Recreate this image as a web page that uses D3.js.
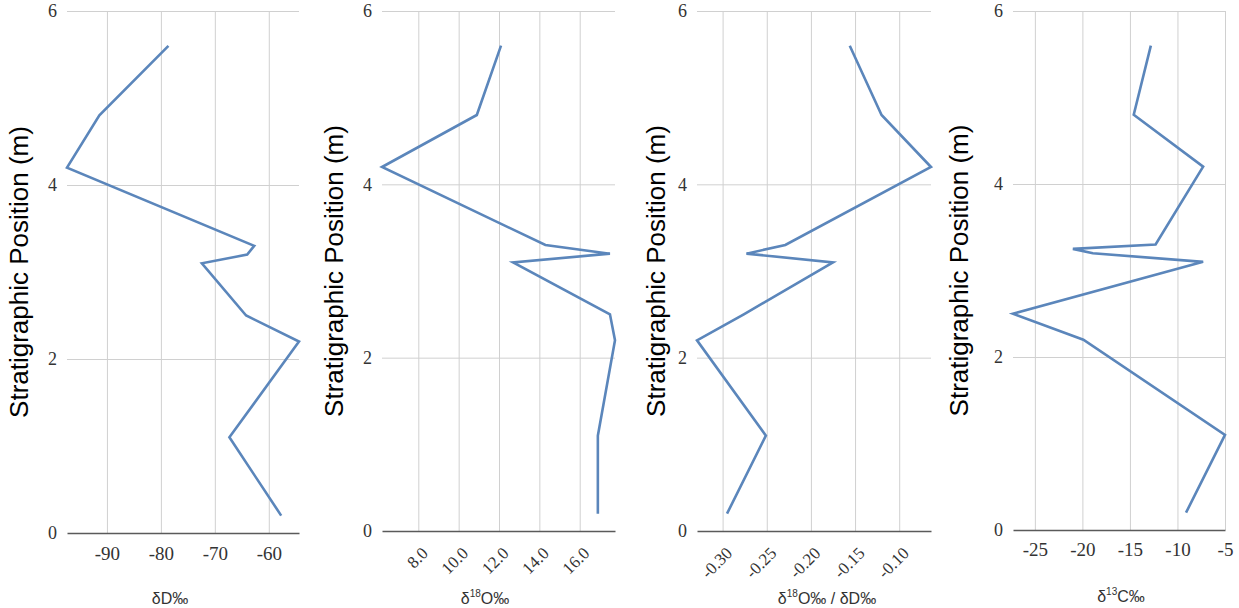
<!DOCTYPE html>
<html>
<head>
<meta charset="utf-8">
<script src="https://cdn.jsdelivr.net/npm/d3@7"></script>
<style>
  html, body { margin: 0; padding: 0; background: #fff; }
  svg { display: block; }
</style>
</head>
<body>
<svg id="chart" width="1239" height="608"></svg>
<script>
// Stratigraphic position of each sample (m)
const depths = [5.6, 4.8, 4.2, 3.3, 3.2, 3.1, 2.5, 2.2, 1.1, 0.2];
// Carbon profile has one extra sample near 3.25 m
const depthsC = [5.6, 4.8, 4.2, 3.3, 3.25, 3.2, 3.1, 2.5, 2.2, 1.1, 0.2];

// Isotope values (‰)
const dD = [-78.6, -91.4, -97.4, -62.7, -64.0, -72.4, -64.2, -54.4, -67.3, -57.7];
const d18O = [12.1, 10.9, 6.2, 14.3, 17.5, 12.7, 17.5, 17.75, 16.9, 16.9];
const ratio = [-0.156, -0.120, -0.064, -0.229, -0.273, -0.175, -0.276, -0.329, -0.251, -0.295];
const d13C = [-12.8, -14.6, -7.3, -12.3, -21.0, -18.9, -7.3, -27.3, -19.9, -5.0, -9.1];

// Tick values
const yTicks = [0, 2, 4, 6];
const dDTicks = [-90, -80, -70, -60];
const d18OTicks = [8, 10, 12, 14, 16];
const ratioTicks = [-0.30, -0.25, -0.20, -0.15, -0.10];
const d13CTicks = [-25, -20, -15, -10, -5];

const yTitle = "Stratigraphic Position (m)";

// Panel layout (pixel frame of each plot area)
const panels = [
  { values: dD, depth: depths, ticks: dDTicks, fmt: d => String(d), rotate: false,
    left: 67, right: 299, top: 11, bottom: 533, titleX: 28, labelX: 170, labelY: 604, pad: 14,
    label: [["δD‰"]] },
  { values: d18O, depth: depths, ticks: d18OTicks, fmt: d => d.toFixed(1), rotate: true,
    left: 382, right: 615, top: 11, bottom: 531, titleX: 343, labelX: 485, labelY: 604, pad: 14,
    label: [["δ"], ["18", "sup"], ["O‰"]] },
  { values: ratio, depth: depths, ticks: ratioTicks, fmt: d => d.toFixed(2), rotate: true,
    left: 697, right: 931, top: 11, bottom: 531, titleX: 665, labelX: 827, labelY: 604, pad: 14,
    label: [["δ"], ["18", "sup"], ["O‰ / δD‰"]] },
  { values: d13C, depth: depthsC, ticks: d13CTicks, fmt: d => String(d), rotate: false,
    left: 1013, right: 1225, top: 11, bottom: 530, titleX: 968, labelX: 1121, labelY: 602, pad: 13,
    label: [["δ"], ["13", "sup"], ["C‰"]] }
];

const svg = d3.select("#chart");
const serif = "'Liberation Serif', 'Times New Roman', serif";
const sans = "'Liberation Sans', Arial, sans-serif";

panels.forEach(p => {
  const x = d3.scaleLinear().domain(d3.extent(p.values)).range([p.left, p.right]);
  const y = d3.scaleLinear().domain([0, 6]).range([p.bottom, p.top]);
  const g = svg.append("g");

  // vertical gridlines
  g.append("g")
    .attr("transform", `translate(0,${p.top})`)
    .call(d3.axisBottom(x).tickValues(p.ticks).tickSize(p.bottom - p.top).tickFormat(""))
    .call(a => a.select(".domain").remove())
    .call(a => a.selectAll("line").attr("stroke", "#d0d0d0").attr("stroke-width", 1));

  // horizontal gridlines
  g.append("g")
    .attr("transform", `translate(${p.left},0)`)
    .call(d3.axisRight(y).tickValues(yTicks.filter(t => t > 0)).tickSize(p.right - p.left).tickFormat(""))
    .call(a => a.select(".domain").remove())
    .call(a => a.selectAll("line").attr("stroke", "#d0d0d0").attr("stroke-width", 1));

  // y tick labels
  g.append("g")
    .attr("transform", `translate(${p.left},0)`)
    .call(d3.axisLeft(y).tickValues(yTicks).tickSize(0).tickPadding(10).tickFormat(d3.format("d")))
    .call(a => a.select(".domain").remove())
    .call(a => a.attr("font-family", serif).attr("font-size", 18))
    .call(a => a.selectAll("text").attr("fill", "#333"));

  // x axis
  const xa = g.append("g")
    .attr("transform", `translate(0,${p.bottom})`)
    .call(d3.axisBottom(x).tickValues(p.ticks).tickSize(0).tickPadding(p.pad).tickFormat(p.fmt))
    .attr("font-family", serif).attr("font-size", 19);
  xa.select(".domain").attr("stroke", "#5a5a5a").attr("stroke-width", 1.6);
  xa.selectAll("text").attr("fill", "#333");
  if (p.rotate) {
    xa.attr("font-size", 17);
    xa.selectAll("text")
      .attr("x", 0).attr("y", 0).attr("dy", "0.35em")
      .attr("text-anchor", "end")
      .attr("transform", "translate(6,19) rotate(-45)");
  }

  // x axis title
  const t = g.append("text")
    .attr("x", p.labelX).attr("y", p.labelY)
    .attr("text-anchor", "middle")
    .attr("font-family", sans).attr("font-size", 16).attr("fill", "#333");
  p.label.forEach(([s, kind]) => {
    const ts = t.append("tspan").text(s);
    if (kind === "sup") ts.attr("font-size", 10).attr("dy", -7);
    else if (t.selectAll("tspan").size() > 1) ts.attr("dy", 7);
  });

  // y axis title
  g.append("text")
    .attr("transform", `translate(${p.titleX},${(p.top + p.bottom) / 2}) rotate(-90)`)
    .attr("text-anchor", "middle")
    .attr("font-family", sans).attr("font-size", 26).attr("fill", "#000")
    .text(yTitle);

  // profile line
  const line = d3.line().x(d => x(d[0])).y(d => y(d[1]));
  g.append("path")
    .datum(p.values.map((v, i) => [v, p.depth[i]]))
    .attr("d", line)
    .attr("fill", "none")
    .attr("stroke", "#5b86bb")
    .attr("stroke-width", 2.6);
});
</script>
</body>
</html>
